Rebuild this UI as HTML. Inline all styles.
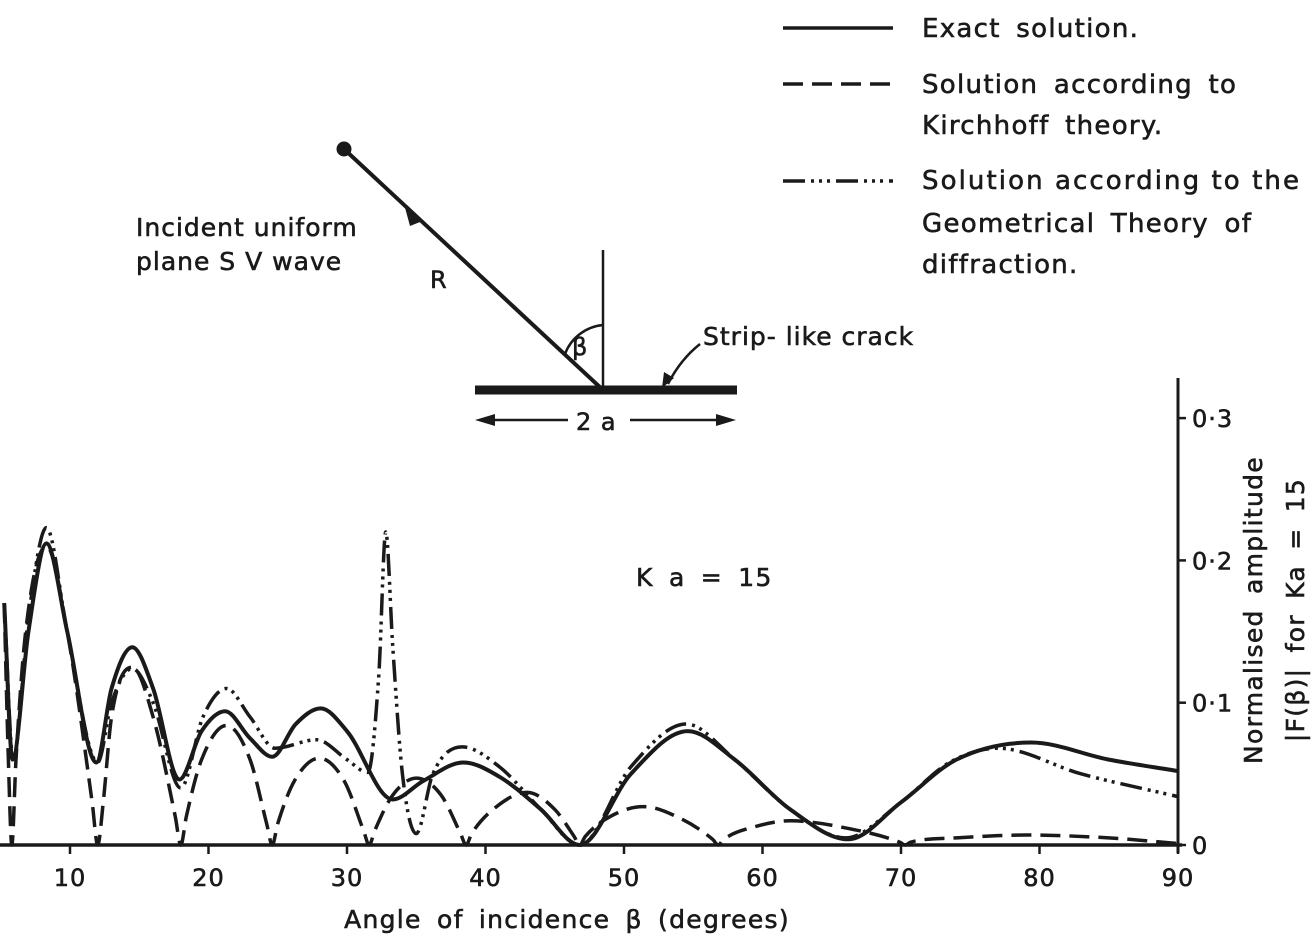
<!DOCTYPE html>
<html><head><meta charset="utf-8"><style>
html,body{margin:0;padding:0;background:#fff;}
svg{display:block;}
text{font-family:"DejaVu Sans","Liberation Sans",sans-serif;fill:#1a1a1a;stroke:#1a1a1a;stroke-width:0.6;letter-spacing:1px;}
.wide{word-spacing:6px;letter-spacing:1.3px;}
</style></head><body>
<svg id="chart" width="1314" height="947" viewBox="0 0 1314 947" xmlns="http://www.w3.org/2000/svg">
<g id="diagram" stroke="#1a1a1a" fill="none">
  <circle cx="344" cy="149" r="7" fill="#1a1a1a"/>
  <line x1="344" y1="149" x2="603" y2="390" stroke-width="4"/>
  <polygon points="404,204 420,222 410,226" fill="#1a1a1a" stroke="none"/>
  <line x1="603" y1="250" x2="603" y2="390" stroke-width="2.5"/>
  <path d="M565,354 A45,45 0 0 1 603,325" stroke-width="2.5"/>
  <line x1="475" y1="390" x2="737" y2="390" stroke-width="9"/>
  <path d="M700,344 Q680,360 668,384" stroke-width="2.5"/>
  <polygon points="662,388 664,372 674,378" fill="#1a1a1a" stroke="none"/>
  <line x1="480" y1="420" x2="568" y2="420" stroke-width="2.5"/>
  <line x1="630" y1="420" x2="730" y2="420" stroke-width="2.5"/>
  <polygon points="475,420 495,414 495,426" fill="#1a1a1a" stroke="none"/>
  <polygon points="736,420 716,414 716,426" fill="#1a1a1a" stroke="none"/>
</g>
<text x="572" y="355" font-size="24">β</text>
<text x="430" y="288" font-size="24">R</text>
<text x="576" y="430" font-size="24">2 a</text>
<text x="703" y="345" font-size="25">Strip- like crack</text>
<text x="136" y="236" font-size="25">Incident uniform</text>
<text x="136" y="270" font-size="25">plane  S V wave</text>

<g id="legend">
  <line x1="783" y1="28" x2="893" y2="28" stroke="#1a1a1a" stroke-width="3.5"/>
  <line x1="783" y1="84" x2="893" y2="84" stroke="#1a1a1a" stroke-width="3.5" stroke-dasharray="20,9"/>
  <line x1="783" y1="181" x2="893" y2="181" stroke="#1a1a1a" stroke-width="3.5" stroke-dasharray="22,6,3,5,3,5,3,6"/>
  <text class="wide" x="922" y="37" font-size="26">Exact  solution.</text>
  <text class="wide" x="922" y="93" font-size="26">Solution  according  to</text>
  <text class="wide" x="922" y="134" font-size="26">Kirchhoff  theory.</text>
  <text x="922" y="189" font-size="26" textLength="378">Solution  according to the</text>
  <text class="wide" x="922" y="232" font-size="26">Geometrical  Theory  of</text>
  <text class="wide" x="922" y="273" font-size="26">diffraction.</text>
</g>
<text class="wide" x="636" y="586" font-size="25">K a  =  15</text>
<g id="axes"></g>
<g id="series"></g>
<text class="wide" x="567" y="928" font-size="25" text-anchor="middle">Angle  of  incidence  β (degrees)</text>
<text class="wide" transform="translate(1262,610) rotate(-90)" font-size="25" text-anchor="middle">Normalised  amplitude</text>
<text class="wide" transform="translate(1304,610) rotate(-90)" font-size="25" text-anchor="middle">|F(β)|  for Ka  =  15</text>
</svg>
<script>
const xTicks = [10,20,30,40,50,60,70,80,90];
const yTicks = [0,0.1,0.2,0.3];
const yTickLabels = ["0","0·1","0·2","0·3"];
const exactDeg = [5.25,5.85,7,8.3,9.8,11.9,13,14.5,16,17.9,19.5,21.2,23,24.6,26.3,28.1,30,33.3,35.5,38.4,41,44,46.8,50.5,54.6,58,62,66.2,70,74,79.4,85,90];
const exactVal = [.17,.06,.15,.212,.15,.058,.11,.139,.11,.046,.08,.094,.075,.062,.085,.096,.08,.032,.045,.058,.048,.025,0,.05,.080,.06,.025,.004,.03,.06,.072,.06,.052];
const kirchDeg = [5.25,5.55,5.8,6.1,6.8,8.3,9.8,11.6,12,12.4,13,14.5,16,17.6,18,18.4,19.5,21.3,23,24.2,24.6,25,26.2,28,29.8,31.2,31.6,32,33.3,35,36.8,38.2,38.6,39,40.8,43,45,46.4,46.8,47.2,49,51.4,54,56.4,56.8,57.2,59.5,62,66,69.9,70.3,70.7,74,79,85,90];
const kirchVal = [.17,.06,0,.06,.15,.21,.15,.03,0,.03,.09,.125,.09,.02,0,.02,.06,.084,.06,.015,0,.015,.045,.061,.045,.01,0,.01,.035,.047,.035,.008,0,.008,.027,.037,.025,.006,0,.006,.02,.027,.019,.004,0,.004,.013,.017,.012,.002,0,.002,.005,.007,.005,.001];
const gtdDeg = [5.25,5.9,7,8.3,9.8,12,13,14.5,16,18,19.6,21.3,23,24.8,27.8,30,31.5,32.3,32.8,33.3,34,35,36.2,38.3,41,44,46.8,50.5,54.5,58,62,66,70,73.5,77,83,90];
const gtdVal = [.17,.06,.16,.223,.15,.058,.1,.124,.1,.04,.09,.110,.09,.068,.074,.06,.051,.12,.22,.14,.05,.008,.05,.069,.055,.025,0,.055,.085,.06,.025,.005,.03,.058,.068,.05,.034];

const X = d => 70 + (d - 10) * 13.85;
const Y = v => 845 - v * 1423;
const NS = "http://www.w3.org/2000/svg";
const axes = document.getElementById('axes');
const series = document.getElementById('series');
function mk(tag, attrs, parent){ const e=document.createElementNS(NS,tag); for(const k in attrs) e.setAttribute(k,attrs[k]); parent.appendChild(e); return e; }

let bl = mk('line',{x1:0,y1:Y(0),x2:X(90)+4,y2:Y(0),stroke:'#1a1a1a','stroke-width':3.5},axes);


let yl = mk('line',{x1:X(90),y1:378,x2:X(90),y2:Y(0)+8,stroke:'#1a1a1a','stroke-width':3},axes);


xTicks.forEach(t=>{
  const tk = mk('line',{x1:X(t),y1:Y(0),x2:X(t),y2:Y(0)+9,stroke:'#1a1a1a','stroke-width':2.5},axes);
  
  
  const tx = mk('text',{x:X(t),y:886,'font-size':24,'text-anchor':'middle'},axes);
  tx.textContent = t;
  
  
});
yTicks.forEach((t,i)=>{
  const tk = mk('line',{x1:X(90),y1:Y(t),x2:X(90)+8,y2:Y(t),stroke:'#1a1a1a','stroke-width':2.5},axes);
  
  
  const tx = mk('text',{x:X(90)+14,y:Y(t)+9,'font-size':24},axes);
  tx.textContent = yTickLabels[i];
  
  
});

function monotonePath(xs, ys){
  const n=xs.length, px=xs.map(X), py=ys.map(Y);
  const d=[], m=new Array(n);
  for(let i=0;i<n-1;i++) d.push((py[i+1]-py[i])/(px[i+1]-px[i]));
  m[0]=d[0]; m[n-1]=d[n-2];
  for(let i=1;i<n-1;i++){ m[i] = (d[i-1]*d[i]<=0)?0:(d[i-1]+d[i])/2; }
  for(let i=0;i<n-1;i++){ if(d[i]===0){m[i]=0;m[i+1]=0;continue;}
    const a=m[i]/d[i], b=m[i+1]/d[i], s=a*a+b*b; if(s>9){const t=3/Math.sqrt(s); m[i]=t*a*d[i]; m[i+1]=t*b*d[i];} }
  let p=`M${px[0]},${py[0]}`;
  for(let i=0;i<n-1;i++){ const h=(px[i+1]-px[i])/3;
    p+=` C${px[i]+h},${py[i]+m[i]*h} ${px[i+1]-h},${py[i+1]-m[i+1]*h} ${px[i+1]},${py[i+1]}`; }
  return p;
}
const k = mk('path',{d:monotonePath(kirchDeg,kirchVal),fill:'none',stroke:'#1a1a1a','stroke-width':3.5,'stroke-dasharray':'20,9'},series);


const g = mk('path',{d:monotonePath(gtdDeg,gtdVal),fill:'none',stroke:'#1a1a1a','stroke-width':3.5,'stroke-dasharray':'22,6,3,5,3,5,3,6'},series);


const e = mk('path',{d:monotonePath(exactDeg,exactVal),fill:'none',stroke:'#1a1a1a','stroke-width':4},series);


</script>
</body></html>
